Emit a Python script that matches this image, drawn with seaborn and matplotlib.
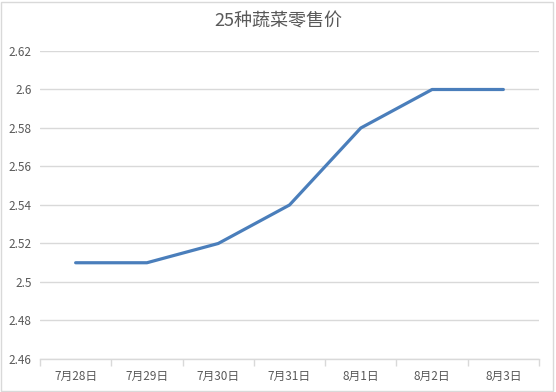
import matplotlib
matplotlib.use("Agg")
import matplotlib.pyplot as plt
from matplotlib.patches import Rectangle
import seaborn as sns
import pandas as pd
import numpy as np

dates = ["7月28日", "7月29日", "7月30日", "7月31日", "8月1日", "8月2日", "8月3日"]
prices = [2.51, 2.51, 2.52, 2.54, 2.58, 2.60, 2.60]
yticks = [2.46, 2.48, 2.50, 2.52, 2.54, 2.56, 2.58, 2.60, 2.62]
ytick_labels = ["2.46", "2.48", "2.5", "2.52", "2.54", "2.56", "2.58", "2.6", "2.62"]
title = "25种蔬菜零售价"

sns.set_style("white")
plt.rcParams['font.family'] = ['Noto Sans CJK SC', 'DejaVu Sans']

df = pd.DataFrame({"date": dates, "price": prices})

fig = plt.figure(figsize=(5.56, 3.92), dpi=100)
ax = fig.add_axes([40/556, 1-359/392, (539-40)/556, (359-51)/392])

sns.lineplot(data=df, x="date", y="price", ax=ax, color="#4a7ebb", linewidth=2.3, sort=False)

ax.set_ylim(2.46, 2.62)
ax.set_xlim(-0.5, len(dates) - 0.5)
ax.set_yticks(yticks)
ax.set_yticklabels(ytick_labels)
ax.set_xticks(range(len(dates)))
ax.set_xticklabels(dates)
ax.set_xticks(np.arange(-0.5, len(dates), 1.0), minor=True)
ax.yaxis.grid(True, color="#d9d9d9", linewidth=1)
ax.set_axisbelow(True)
ax.set_xlabel("")
ax.set_ylabel("")
for s in ["top", "right", "left"]:
    ax.spines[s].set_visible(False)
ax.spines["bottom"].set_color("#d9d9d9")
ax.spines["bottom"].set_linewidth(1)
ax.tick_params(axis="x", which="major", length=0, pad=8, labelsize=8.5, labelcolor="#595959")
ax.tick_params(axis="x", which="minor", length=5, color="#d9d9d9", width=1, direction="out", bottom=True)
ax.tick_params(axis="y", length=0, pad=6, labelsize=8.5, labelcolor="#595959")

fig.text(0.5, 1-22/392, title, ha="center", va="center", fontsize=13, color="#595959")
fig.patches.append(Rectangle((1/556, 1/392), 552/556, 389/392, transform=fig.transFigure,
                             fill=False, edgecolor="#d9d9d9", linewidth=1))

fig.savefig("out.png", dpi=100)
